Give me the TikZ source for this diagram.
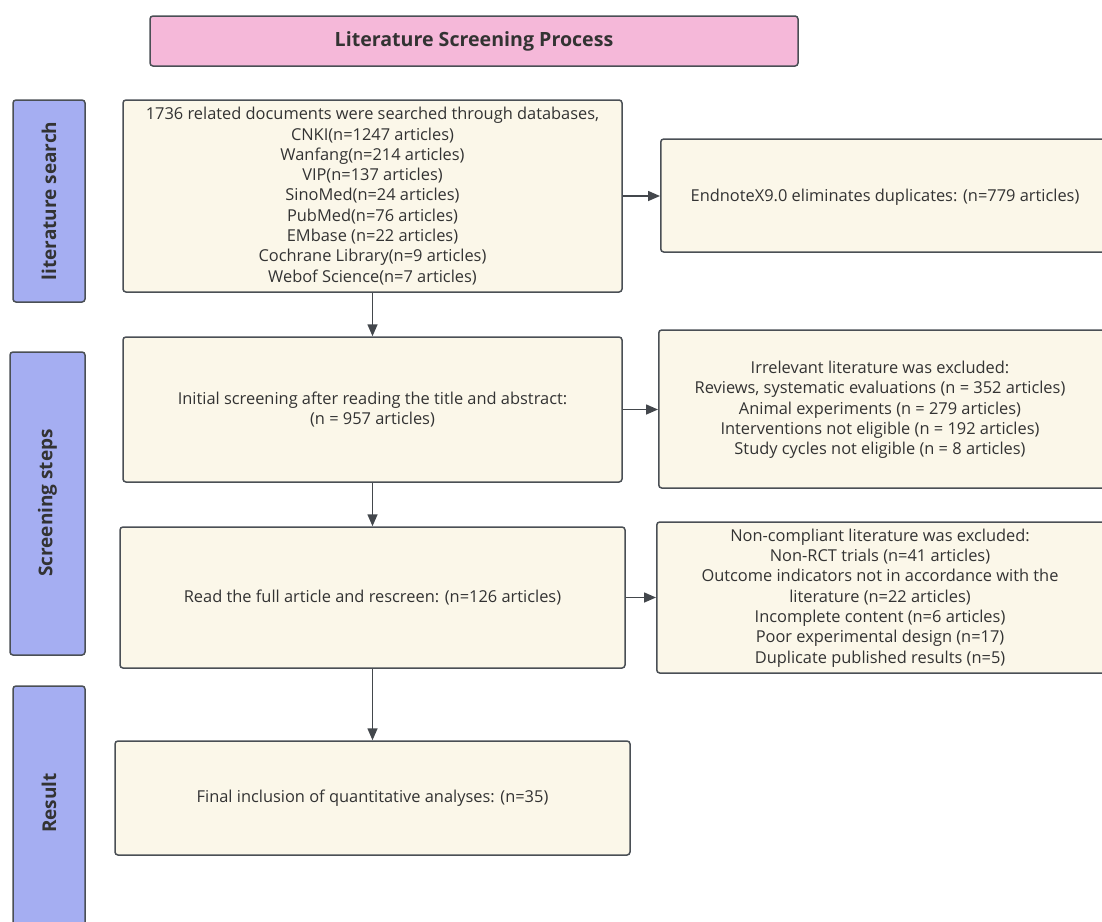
\documentclass[tikz,border=0pt]{standalone}
\usepackage{fontspec}
\setmainfont{Open Sans}
\usetikzlibrary{arrows.meta}
\definecolor{pinkfill}{HTML}{F5B8D9}
\definecolor{lanefill}{HTML}{A5AEF2}
\definecolor{boxfill}{HTML}{FBF7E9}
\definecolor{edge}{HTML}{4A4F55}
\definecolor{txt}{HTML}{333333}
\tikzset{
  base/.style={draw=edge, line width=1.5pt, rounded corners=3pt, inner sep=0pt, text=txt},
  titlebox/.style={base, fill=pinkfill, font=\fontsize{19.6}{23}\selectfont\bfseries},
  lane/.style={base, fill=lanefill},
  lanetext/.style={text=txt, font=\fontsize{19}{23}\selectfont\bfseries, rotate=90},
  body/.style={text=txt, font=\fontsize{16.4}{20.3}\selectfont, align=center},
  stepbox/.style={base, fill=boxfill, font=\fontsize{16.4}{20.3}\selectfont, align=center},
  conn/.style={draw=edge!90!black, line width=1.5pt, -{Triangle[length=12pt,width=10pt]}}
}
\begin{document}
\begin{tikzpicture}[x=1pt,y=-1pt]
\useasboundingbox (0,0) rectangle (1102,921);
\clip (0,0) rectangle (1102,921);
\fill[white] (0,0) rectangle (1102,921);
% title
\node[titlebox, minimum width=648pt, minimum height=50pt] (title) at (474,41) {Literature Screening Process};
% lanes
\draw[lane] (13,100) rectangle (85,302);
\node[lanetext] (l1) at (49,201) {literature search};
\draw[lane] (10,352) rectangle (85,655);
\node[lanetext] (l2) at (47.5,503) {Screening steps};
\draw[lane] (13,686) rectangle (85,940);
\node[lanetext] (l3) at (49,803) {Result};
% boxes
\node[stepbox, minimum width=499pt, minimum height=192pt] (b1) at (372.5,196) {1736 related documents were searched through databases,\\CNKI(n=1247 articles)\\Wanfang(n=214 articles)\\VIP(n=137 articles)\\SinoMed(n=24 articles)\\PubMed(n=76 articles)\\EMbase (n=22 articles)\\Cochrane Library(n=9 articles)\\Webof Science(n=7 articles)};
\node[stepbox, minimum width=450pt, minimum height=113pt, anchor=west] (b2) at (660,195.5) {};
\node[body] (t2) at (885,197) {EndnoteX9.0 eliminates duplicates: (n=779 articles)};
\node[stepbox, minimum width=499pt, minimum height=145pt] (b3) at (372.5,409.5) {Initial screening after reading the title and abstract:\\(n = 957 articles)};
\node[stepbox, minimum width=452pt, minimum height=158pt, anchor=west] (b4) at (658,409) {};
\node[body] (t4) at (880,410) {Irrelevant literature was excluded:\\Reviews, systematic evaluations (n = 352 articles)\\Animal experiments (n = 279 articles)\\Interventions not eligible (n = 192 articles)\\Study cycles not eligible (n = 8 articles)};
\node[stepbox, minimum width=505pt, minimum height=141pt] (b5) at (372.5,597.5) {Read the full article and rescreen: (n=126 articles)};
\node[stepbox, minimum width=454pt, minimum height=151pt, anchor=west] (b6) at (656,597.5) {};
\node[body] (t6) at (880,598) {Non-compliant literature was excluded:\\Non-RCT trials (n=41 articles)\\Outcome indicators not in accordance with the\\literature (n=22 articles)\\Incomplete content (n=6 articles)\\Poor experimental design (n=17)\\Duplicate published results (n=5)};
\node[stepbox, minimum width=515pt, minimum height=114pt] (b7) at (372.5,798) {Final inclusion of quantitative analyses: (n=35)};
% connectors
\draw[conn] (b1.south) -- (b3.north);
\draw[conn] (b3.south) -- (b5.north);
\draw[conn] (b5.south) -- (b7.north);
\draw[conn] (b1.east) -- (b1.east -| b2.west);
\draw[conn] (b3.east) -- (b3.east -| b4.west);
\draw[conn] (b5.east) -- (b5.east -| b6.west);
\end{tikzpicture}
\end{document}
